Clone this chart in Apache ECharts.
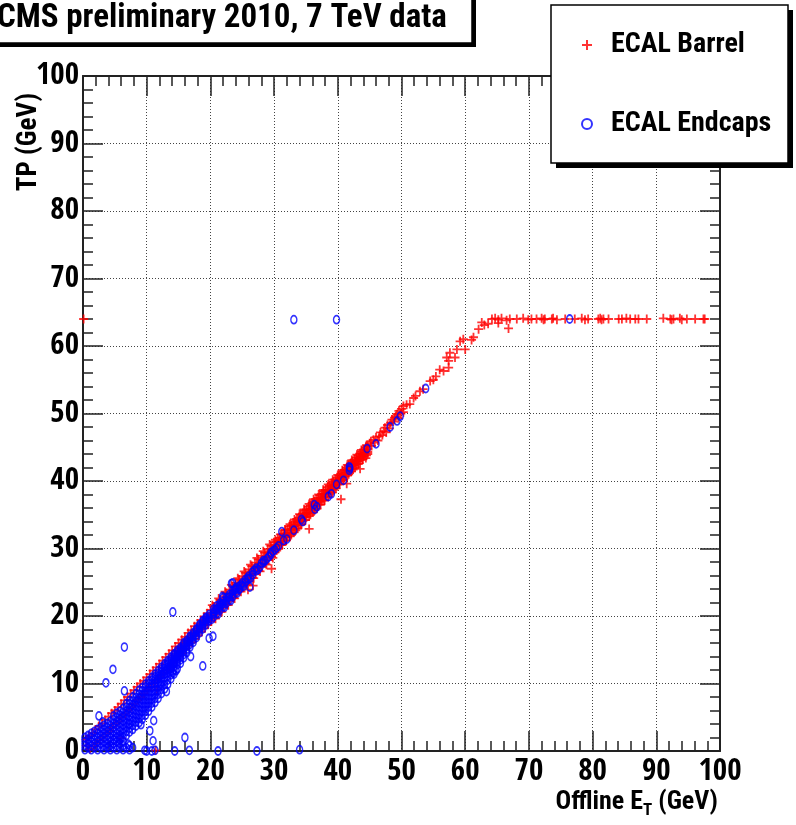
<!DOCTYPE html>
<html>
<head>
<meta charset="utf-8">
<title>TP vs offline ET</title>
<script src="https://cdn.jsdelivr.net/npm/echarts@6/dist/echarts.min.js"></script>
<style>
html, body { margin: 0; padding: 0; background: #fff; }
#chart { width: 796px; height: 825px; }
</style>
</head>
<body>
<div id="chart"></div>
<script>
var FONT = '"Roboto Condensed", "Open Sans Condensed", "DejaVu Sans Condensed", sans-serif';
var TICK_FONT = '"Open Sans Condensed", "Roboto Condensed", "DejaVu Sans Condensed", sans-serif';

// axis range (GeV), majors every 10, 5 minor divisions
var axisMin = 0, axisMax = 100, majorStep = 10;
var seriesNames = ['ECAL Barrel', 'ECAL Endcaps'];

// ECAL Barrel: dense diagonal band
var barrelBand = [
  [0.5,1.7],[0.6,0.8],[1.0,2.2],[1.1,0.3],[1.5,2.7],[1.6,0.7],[2.0,3.2],[2.1,1.2],[2.5,3.7],[2.6,1.6],
  [3.0,4.1],[3.1,2.1],[3.5,4.6],[3.6,2.7],[4.0,5.1],[4.1,3.0],[4.5,5.6],[4.6,3.5],[5.0,6.0],[5.1,4.1],
  [5.5,6.5],[5.6,4.4],[6.0,7.0],[6.1,5.0],[6.5,7.5],[6.6,5.5],[7.0,8.0],[7.1,6.1],[7.5,8.5],[7.6,6.5],
  [8.0,9.0],[8.1,7.0],[8.5,9.5],[8.6,7.6],[9.0,10.0],[9.1,8.0],[9.5,10.4],[9.6,8.5],[10.0,10.9],[10.1,9.1],
  [10.5,11.4],[10.6,9.5],[11.0,11.9],[11.1,10.0],[11.5,12.4],[11.6,10.6],[12.0,12.9],[12.1,11.0],[12.5,13.4],[12.6,11.6],
  [13.0,13.9],[13.1,12.0],[13.5,14.4],[13.6,12.5],[14.0,14.9],[14.1,13.1],
  [14.5,15.5],[14.6,14.9],[14.4,14.1],[14.6,13.6],[15.0,16.0],[15.1,15.3],[14.9,14.7],[15.1,14.1],
  [15.5,16.5],[15.6,15.9],[15.4,15.2],[15.6,14.5],[16.0,16.9],[16.1,16.4],[15.9,15.6],[16.1,15.1],
  [16.5,17.5],[16.6,16.8],[16.4,16.2],[16.6,15.6],[17.0,17.9],[17.1,17.4],[16.9,16.7],[17.1,16.1],
  [17.5,18.5],[17.6,17.9],[17.4,17.2],[17.6,16.6],[18.0,18.9],[18.1,18.3],[17.9,17.6],[18.1,17.1],
  [18.5,19.4],[18.6,18.9],[18.4,18.2],[18.6,17.7],[19.0,19.9],[19.1,19.4],[18.9,18.6],[19.1,18.2],
  [19.5,20.4],[19.6,19.8],[19.4,19.2],[19.6,18.7],[20.0,20.9],[20.1,20.4],[19.9,19.6],[20.1,19.2],
  [20.5,21.4],[20.6,20.9],[20.4,20.1],[20.6,19.7],[21.0,21.9],[21.1,21.3],[20.9,20.6],[21.1,20.2],
  [21.5,22.4],[21.6,21.8],[21.4,21.1],[21.6,20.7],[22.0,22.9],[22.1,22.3],[21.9,21.6],[22.1,21.2],
  [22.5,23.4],[22.6,22.8],[22.4,22.1],[22.6,21.7],[23.0,23.9],[23.1,23.3],[22.9,22.6],[23.1,22.2],
  [23.5,24.4],[23.6,23.8],[23.4,23.1],[23.6,22.7],[24.0,24.9],[24.1,24.3],[23.9,23.6],[24.1,23.2],
  [24.5,25.4],[24.6,24.8],[24.4,24.1],[24.6,23.7],[25.0,25.9],[25.1,25.3],[24.9,24.6],[25.1,24.2],
  [25.5,26.4],[25.6,25.8],[25.4,25.1],[25.6,24.7],[26.0,26.9],[26.1,26.3],[25.9,25.6],[26.1,25.2],
  [26.5,27.4],[26.6,26.8],[26.4,26.1],[26.6,25.7],[27.0,27.9],[27.1,27.3],[26.9,26.6],[27.1,26.2],
  [27.5,28.4],[27.6,27.8],[27.4,27.1],[27.6,26.7],[28.0,28.9],[28.1,28.3],[27.9,27.6],[28.1,27.3],
  [28.5,29.4],[28.6,28.8],[28.4,28.1],[28.6,27.8],[29.0,29.9],[29.1,29.4],[28.9,28.7],[29.1,28.3],
  [29.5,30.4],[29.6,29.9],[29.4,29.2],[29.6,28.8],[30.0,30.9],[30.1,30.4],[29.9,29.8],[30.1,29.4],
  [20.3,21.6],[20.8,19.6],[21.3,22.6],[21.8,20.6],[22.3,23.6],[22.8,21.6],[23.3,24.6],[23.8,22.6],
  [24.3,25.6],[24.8,23.6],[25.3,26.6],[25.8,24.6],[26.3,27.6],[26.8,25.6],[27.3,28.6],[27.8,26.6],
  [28.3,29.6],[28.8,27.6],[29.3,30.6],[29.8,28.6],
  [30.6,31.5],[30.7,31.0],[30.5,30.4],[30.7,30.0],[31.2,32.1],[31.3,31.6],[31.1,31.0],[31.3,30.6],
  [31.8,32.7],[31.9,32.2],[31.7,31.6],[31.9,31.2],[32.4,33.3],[32.5,32.8],[32.3,32.2],[32.5,31.8],
  [33.0,33.8],[33.1,33.3],[32.9,32.8],[33.1,32.4],[33.6,34.4],[33.7,33.9],[33.5,33.4],[33.7,33.0],
  [34.2,35.0],[34.3,34.5],[34.1,34.0],[34.3,33.6],[34.8,35.6],[34.9,35.1],[34.7,34.6],[34.9,34.2],
  [35.4,36.2],[35.5,35.7],[35.3,35.2],[35.5,34.8],[36.0,36.8],[36.1,36.3],[35.9,35.8],[36.1,35.4],
  [36.6,37.3],[36.7,36.9],[36.5,36.3],[36.7,35.9],[37.2,37.9],[37.3,37.5],[37.1,36.9],[37.3,36.5],
  [37.8,38.5],[37.9,38.1],[37.7,37.5],[37.9,37.1],[38.4,39.1],[38.5,38.6],[38.3,38.1],[38.5,37.7],
  [39.0,39.7],[39.1,39.2],[38.9,38.7],[39.1,38.3],[39.6,40.2],[39.7,39.8],[39.5,39.3],[39.7,38.9],
  [40.2,40.8],[40.3,40.4],[40.1,39.9],[40.3,39.5],[40.8,41.4],[40.9,41.0],[40.7,40.5],[40.9,40.1],
  [41.4,42.0],[41.5,41.6],[41.3,41.1],[41.5,40.8],[42.0,42.6],[42.1,42.2],[41.9,41.7],[42.1,41.4],
  [42.6,43.2],[42.7,42.8],[42.5,42.3],[42.7,42.0],[43.2,43.8],[43.3,43.4],[43.1,42.9],[43.3,42.6],
  [43.8,44.4],[43.9,44.0],[43.7,43.5],[43.9,43.2],[44.4,45.0],[44.5,44.6],[44.3,44.1],[44.5,43.8],
  [30.3,31.0],[30.3,30.5],[30.3,29.9],[30.9,31.6],[30.9,31.1],[30.9,30.5],[31.5,32.2],[31.5,31.7],[31.5,31.1],
  [32.1,32.8],[32.1,32.3],[32.1,31.7],[32.7,33.4],[32.7,32.9],[32.7,32.3],[33.3,34.0],[33.3,33.5],[33.3,32.9],
  [33.9,34.6],[33.9,34.1],[33.9,33.5],[34.5,35.2],[34.5,34.7],[34.5,34.1],[35.1,35.8],[35.1,35.3],[35.1,34.7],
  [35.7,36.4],[35.7,35.9],[35.7,35.3],[36.3,37.0],[36.3,36.5],[36.3,35.9],[36.9,37.5],[36.9,37.0],[36.9,36.5],
  [37.5,38.1],[37.5,37.6],[37.5,37.1],[38.1,38.7],[38.1,38.2],[38.1,37.7],[38.7,39.3],[38.7,38.8],[38.7,38.3],
  [39.3,39.9],[39.3,39.4],[39.3,38.9],[39.9,40.5],[39.9,40.0],[39.9,39.5],[40.5,41.1],[40.5,40.6],[40.5,40.1],
  [41.1,41.7],[41.1,41.2],[41.1,40.7],[41.7,42.3],[41.7,41.8],[41.7,41.3],[42.3,42.9],[42.3,42.4],[42.3,41.9],
  [42.9,43.5],[42.9,43.0],[42.9,42.5],[43.5,44.1],[43.5,43.6],[43.5,43.1],[44.1,44.7],[44.1,44.2],[44.1,43.7],
  [44.7,45.2],[44.7,44.8],[44.7,44.3],
  [30.2,31.3],[30.4,29.7],[31.0,32.1],[31.2,30.5],[31.7,32.8],[31.9,31.2],[32.5,33.6],[32.7,32.0],
  [33.2,34.3],[33.4,32.7],[34.0,35.1],[34.2,33.5],[34.7,35.8],[34.9,34.2],[35.5,36.6],[35.7,35.0],
  [36.2,37.3],[36.4,35.7],[37.0,38.0],[37.2,36.5],[37.7,38.7],[37.9,37.2],[38.5,39.5],[38.7,38.0],
  [39.2,40.2],[39.4,38.7],[40.0,40.9],[40.2,39.5],[40.7,41.6],[40.9,40.2],[41.5,42.4],[41.7,41.0],
  [42.2,43.1],[42.4,41.7],[43.0,43.9],[43.2,42.5],[43.7,44.6],[43.9,43.2],[44.5,45.3],[44.7,44.0]
];

// ECAL Barrel: thinner part of the band, 45-63 GeV
var barrelSparse = [
  [45.0,45.6],[45.3,45.2],[45.6,46.1],[46.0,46.5],[46.3,46.0],[46.7,47.2],[47.0,46.8],[47.4,47.9],
  [47.8,48.3],[48.1,47.8],[48.5,49.1],[48.9,49.4],[49.3,49.9],[49.6,50.4],[50.0,50.7],[50.3,50.2],
  [45.2,45.9],[45.8,45.7],[46.5,46.6],[47.2,47.4],[47.6,47.2],[48.3,48.6],[48.7,48.8],[49.1,49.6],
  [49.5,49.3],[49.9,50.0],
  [50.3,51.1],[50.8,51.3],[51.3,51.4],[51.9,52.3],[52.2,52.6],[52.9,53.3],[53.4,53.6],[54.5,54.8],
  [55.0,55.0],[55.4,55.5],[56.0,56.5],[56.6,56.3],[57.4,56.8],[57.1,58.3],[57.4,57.8],[58.4,58.3],
  [57.6,59.0],[58.7,59.5],[60.0,59.5],[59.2,60.7],[59.7,61.0],[61.0,60.9],[61.3,61.3],[62.1,62.5],
  [62.6,63.5],[63.0,63.1],[63.6,63.3]
];

// ECAL Barrel: off-band crosses
var barrelOutliers = [
  [35.5,32.9],[40.5,37.3],[41.4,39.6],[43.5,41.8],[44.4,43.4],[29.6,27.0],[26.7,24.5],[25.9,23.9],
  [11.6,9.1],[6.0,1.9],[11.4,0.1],[0.1,64.0],[66.8,62.6],[65.2,63.4]
];

// ECAL Barrel: saturation plateau at TP = 64 GeV
var barrelPlateau = [
  [64.2,64.0],[64.7,64.1],[65.2,63.9],[65.7,64.1],[66.5,63.8],[67.0,64.0],[68.1,64.0],[69.1,64.1],
  [69.9,63.9],[70.4,64.0],[71.2,64.0],[72.0,64.1],[72.3,63.9],[72.5,64.0],[73.6,64.0],[73.8,64.1],
  [74.4,63.9],[75.7,64.0],[77.2,64.0],[78.3,64.1],[78.8,63.9],[79.3,64.0],[80.9,64.0],[81.2,64.1],
  [81.4,63.9],[81.7,64.0],[82.5,64.0],[84.1,64.0],[84.6,64.0],[85.3,64.1],[85.9,64.0],[86.7,64.0],
  [87.2,64.0],[88.5,64.0],[91.1,64.1],[92.2,64.0],[92.4,63.9],[92.7,64.0],[93.7,64.1],[94.0,63.9],
  [94.8,64.0],[96.1,64.0],[97.4,64.0],[97.6,64.0]
];

// ECAL Endcaps: the pile-up near the origin and the wide band below 20 GeV
var endcapBand = [
  [0.3,0.2],[0.3,0.8],[0.3,1.4],[0.3,2.0],
  [0.8,0.5],[0.8,1.1],[0.8,1.7],[0.8,2.3],
  [1.3,0.2],[1.3,0.8],[1.3,1.4],[1.3,2.0],[1.3,2.6],
  [1.8,0.5],[1.8,1.1],[1.8,1.7],[1.8,2.3],[1.8,2.9],
  [2.3,0.2],[2.3,0.8],[2.3,1.4],[2.3,2.0],[2.3,2.6],[2.3,3.2],
  [2.8,0.5],[2.8,1.1],[2.8,1.7],[2.8,2.3],[2.8,2.9],[2.8,3.5],
  [3.3,0.2],[3.3,0.8],[3.3,1.4],[3.3,2.0],[3.3,2.6],[3.3,3.2],[3.3,3.8],
  [3.8,0.5],[3.8,1.1],[3.8,1.7],[3.8,2.3],[3.8,2.9],[3.8,3.5],[3.8,4.1],
  [4.3,0.2],[4.3,0.8],[4.3,1.4],[4.3,2.0],[4.3,2.6],[4.3,3.2],[4.3,3.8],[4.3,4.4],
  [4.8,0.5],[4.8,1.1],[4.8,1.7],[4.8,2.3],[4.8,2.9],[4.8,3.5],[4.8,4.1],[4.8,4.7],[4.8,5.2],
  [5.3,0.2],[5.3,0.8],[5.3,1.4],[5.3,2.0],[5.3,2.6],[5.3,3.2],[5.3,3.8],[5.3,4.4],[5.3,5.0],[5.3,5.6],
  [5.8,0.5],[5.8,1.1],[5.8,1.7],[5.8,2.3],[5.8,2.9],[5.8,3.5],[5.8,4.1],[5.8,4.7],[5.8,5.3],[5.8,5.9],
  [6.3,0.2],[6.3,0.8],[6.3,1.5],[6.3,2.1],[6.3,2.7],[6.3,3.3],[6.3,3.9],[6.3,4.5],[6.3,5.1],[6.3,5.7],[6.3,6.3],
  [6.8,0.5],[6.8,2.3],[6.8,2.9],[6.8,3.5],[6.8,4.1],[6.8,4.7],[6.8,5.3],[6.8,5.9],[6.8,6.5],[6.8,7.0],
  [7.3,0.2],[7.3,0.8],[7.3,2.8],[7.3,3.4],[7.3,4.0],[7.3,4.6],[7.3,5.2],[7.3,5.8],[7.3,6.4],[7.3,7.0],[7.3,7.5],
  [7.8,0.5],[7.8,3.2],[7.8,3.8],[7.8,4.4],[7.8,5.0],[7.8,5.6],[7.8,6.2],[7.8,6.8],[7.8,7.4],[7.8,8.0],
  [8.3,3.7],[8.3,4.3],[8.3,4.9],[8.3,5.5],[8.3,6.1],[8.3,6.7],[8.3,7.3],[8.3,7.9],[8.3,8.5],
  [8.8,4.2],[8.8,4.8],[8.8,5.4],[8.8,6.0],[8.8,6.6],[8.8,7.2],[8.8,7.8],[8.8,8.4],[8.8,9.0],
  [9.3,4.7],[9.3,5.3],[9.3,5.9],[9.3,6.5],[9.3,7.1],[9.3,7.7],[9.3,8.3],[9.3,8.9],[9.3,9.4],
  [9.8,5.3],[9.8,5.9],[9.8,6.5],[9.8,7.1],[9.8,7.7],[9.8,8.3],[9.8,8.9],[9.8,9.5],[9.8,9.9],
  [10.3,5.9],[10.3,6.5],[10.3,7.1],[10.3,7.7],[10.3,8.3],[10.3,8.9],[10.3,9.5],[10.3,10.0],[10.3,10.4],
  [10.8,6.5],[10.8,7.1],[10.8,7.7],[10.8,8.3],[10.8,8.9],[10.8,9.5],[10.8,10.0],[10.8,10.5],[10.8,10.9],
  [11.3,7.2],[11.3,7.8],[11.3,8.4],[11.3,9.0],[11.3,9.6],[11.3,10.1],[11.3,10.6],[11.3,11.0],[11.3,11.4],
  [11.8,7.8],[11.8,8.4],[11.8,9.0],[11.8,9.6],[11.8,10.2],[11.8,10.7],[11.8,11.1],[11.8,11.5],[11.8,11.9],
  [12.3,8.5],[12.3,9.1],[12.3,9.7],[12.3,10.3],[12.3,10.8],[12.3,11.3],[12.3,11.7],[12.3,12.1],[12.3,12.4],
  [12.8,9.2],[12.8,9.8],[12.8,10.4],[12.8,10.9],[12.8,11.4],[12.8,11.8],[12.8,12.2],[12.8,12.6],[12.8,12.9],
  [13.3,9.9],[13.3,10.5],[13.3,11.1],[13.3,11.6],[13.3,12.0],[13.3,12.4],[13.3,12.8],[13.3,13.1],[13.3,13.4],
  [13.8,10.7],[13.8,11.3],[13.8,11.8],[13.8,12.2],[13.8,12.6],[13.8,13.0],[13.8,13.3],[13.8,13.6],[13.8,13.9],
  [14.3,11.4],[14.3,12.0],[14.3,12.5],[14.3,12.9],[14.3,13.3],[14.3,13.6],[14.3,13.9],[14.3,14.2],[14.3,14.4],
  [14.8,12.2],[14.8,12.8],[14.8,13.2],[14.8,13.6],[14.8,14.0],[14.8,14.3],[14.8,14.6],[14.8,14.9],
  [15.3,13.0],[15.3,13.5],[15.3,13.9],[15.3,14.3],[15.3,14.7],[15.3,15.0],[15.3,15.3],
  [15.8,13.8],[15.8,14.3],[15.8,14.7],[15.8,15.1],[15.8,15.4],[15.8,15.7],[15.8,16.0],
  [16.3,14.6],[16.3,15.1],[16.3,15.5],[16.3,15.8],[16.3,16.1],[16.3,16.4],
  [16.8,15.4],[16.8,15.8],[16.8,16.2],[16.8,16.5],[16.8,16.8],[16.8,17.0],
  [17.3,16.1],[17.3,16.5],[17.3,16.9],[17.3,17.2],[17.3,17.5],
  [17.8,16.8],[17.8,17.2],[17.8,17.6],[17.8,17.9],[17.8,18.1],
  [18.3,17.5],[18.3,17.9],[18.3,18.2],[18.3,18.5],[18.3,18.7],
  [18.8,18.1],[18.8,18.5],[18.8,18.8],[18.8,19.1],[18.8,19.3],
  [19.3,18.7],[19.3,19.1],[19.3,19.4],[19.3,19.6],[19.3,19.8],
  [19.8,19.3],[19.8,19.6],[19.8,19.9],[19.8,20.2],
  [20.5,19.9],[20.5,20.3],[20.5,20.6],[20.5,21.0],[21.0,20.4],[21.0,20.8],[21.0,21.1],[21.0,21.5],
  [21.5,20.9],[21.5,21.3],[21.5,21.6],[21.5,21.9],[22.0,21.4],[22.0,21.8],[22.0,22.2],
  [22.5,21.9],[22.5,22.3],[22.5,22.7],[23.0,22.4],[23.0,22.8],[23.0,23.2],
  [23.5,22.9],[23.5,23.3],[23.5,23.7],[24.0,23.5],[24.0,23.9],[24.0,24.2],
  [24.5,24.0],[24.5,24.4],[25.0,24.5],[25.0,24.9],[25.5,25.0],[25.5,25.4],[26.0,25.5],[26.0,25.9],
  [26.6,26.1],[26.6,26.5],[27.2,26.7],[27.2,27.1],[27.8,27.3],[28.3,27.9],[28.3,28.2],[28.9,28.5],
  [29.5,29.1],[29.5,29.4],[30.1,29.8],[30.7,30.4],[31.5,31.2],
  [20.2,19.5],[20.8,20.9],[21.2,20.3],[21.8,21.8],[22.2,21.3],[22.8,22.8],[23.2,22.3],[23.8,23.9],
  [24.2,23.4],[24.8,24.6],[25.2,24.4],[25.8,25.6],[26.3,25.6],[26.9,26.8],[27.5,26.9],[28.0,27.8],
  [28.6,28.2],[29.2,28.8],[29.8,29.6],[30.4,30.1]
];

// ECAL Endcaps: single circles along the band above 31 GeV
var endcapSparse = [
  [31.2,32.5],[32.0,31.4],[33.1,32.7],[34.3,34.3],[34.5,34.0],[36.3,36.5],[36.4,35.8],[36.7,36.2],
  [38.5,37.7],[39.0,38.1],[39.8,39.5],[40.9,40.1],[41.8,42.1],[41.8,41.6],[41.9,41.9],[44.6,44.8],
  [46.0,45.5],[48.2,48.0],[49.3,48.9],[49.8,49.6],[53.8,53.7]
];

// ECAL Endcaps: off-band circles
var endcapOutliers = [
  [6.5,15.4],[4.7,12.1],[3.6,10.1],[6.5,8.9],[13.1,8.8],[14.6,11.9],[14.1,11.6],[12.2,9.9],
  [11.1,4.5],[10.5,3.0],[11.0,1.5],[9.1,3.9],[7.2,4.0],[16.0,2.0],[7.1,1.0],[5.9,2.0],
  [2.5,5.2],[3.1,4.3],[4.9,1.6],[4.0,0.6],[9.7,0.1],[10.0,0.0],[10.8,0.0],[11.3,0.1],
  [14.4,0.0],[16.7,0.1],[21.2,0.0],[27.3,0.0],[34.0,0.2],[14.1,20.6],[18.8,12.6],[19.8,16.7],
  [20.4,17.0],[16.9,14.0],[23.5,24.9],[22.0,22.7],[24.6,24.0],[26.2,24.3],[23.3,24.8],[21.9,22.9],
  [33.1,63.9],[39.8,63.9],[76.4,64.0]
];

var chart = echarts.init(document.getElementById('chart'));

var tickColor = '#222';
function axis(pos, labels, grid) {
  return {
    type: 'value', position: pos, min: axisMin, max: axisMax, interval: majorStep,
    axisLine: { show: true, onZero: false, lineStyle: { color: tickColor, width: 2 } },
    axisTick: { show: true, inside: true, length: 20, lineStyle: { color: tickColor, width: 1.5 } },
    minorTick: { show: true, splitNumber: 5, length: 10, lineStyle: { color: tickColor, width: 1.5 } },
    axisLabel: {
      show: labels, color: '#000', fontFamily: TICK_FONT, fontWeight: 'bold', fontSize: 31,
      margin: pos === 'left' ? 4 : 5
    },
    splitLine: { show: grid, lineStyle: { color: '#444', width: 1, type: [1, 2] } }
  };
}

chart.setOption({
  animation: false,
  backgroundColor: '#fff',
  title: {
    text: 'CMS preliminary 2010, 7 TeV data',
    left: -3, top: 2, padding: 0, z: 130,
    textStyle: { fontFamily: FONT, fontWeight: 'bold', fontSize: 33, color: '#000' }
  },
  legend: {
    orient: 'vertical', left: 576, top: 25, itemGap: 49, z: 130,
    itemWidth: 10, itemHeight: 10,
    data: seriesNames,
    textStyle: { fontFamily: FONT, fontWeight: 'bold', fontSize: 28, color: '#000', lineHeight: 30, padding: [0, 0, 0, 14] }
  },
  grid: { left: 83, right: 76, top: 76, bottom: 74 },
  xAxis: [axis('bottom', true, true), axis('top', false, false)],
  yAxis: [axis('left', true, true), axis('right', false, false)],
  graphic: [
    { type: 'rect', z: 100, shape: { x: -10, y: -10, width: 486, height: 57 }, style: { fill: '#000' } },
    { type: 'rect', z: 101, shape: { x: -10, y: -10, width: 482, height: 53 }, style: { fill: '#fff', stroke: '#000', lineWidth: 1.5 } },
    { type: 'rect', z: 100, shape: { x: 556, y: 10, width: 237, height: 158 }, style: { fill: '#000' } },
    { type: 'rect', z: 101, shape: { x: 551, y: 5, width: 237, height: 158 }, style: { fill: '#fff', stroke: '#000', lineWidth: 1.5 } },
    {
      type: 'text', z: 50, x: 29, y: 142, rotation: Math.PI / 2,
      style: { text: 'TP (GeV)', fontFamily: FONT, fontWeight: 'bold', fontSize: 27, fill: '#000', align: 'center', verticalAlign: 'middle' }
    },
    {
      type: 'text', z: 50, x: 718, y: 819,
      style: {
        text: '{a|Offline E}{s|T}{a| (GeV)}', align: 'right', verticalAlign: 'bottom',
        rich: {
          a: { fontFamily: FONT, fontWeight: 'bold', fontSize: 26, fill: '#000', verticalAlign: 'bottom', padding: [0, 0, 4, 0] },
          s: { fontFamily: FONT, fontWeight: 'bold', fontSize: 17, fill: '#000', verticalAlign: 'bottom' }
        }
      }
    }
  ],
  series: [
    {
      name: seriesNames[0], type: 'scatter', xAxisIndex: 0, yAxisIndex: 0,
      symbol: 'path://M4,0H6V4H10V6H6V10H4V6H0V4H4Z', symbolSize: 9,
      itemStyle: { color: '#ff0000' },
      emphasis: { disabled: true },
      data: barrelBand.concat(barrelSparse, barrelOutliers, barrelPlateau)
    },
    {
      name: seriesNames[1], type: 'scatter', xAxisIndex: 0, yAxisIndex: 0,
      symbol: 'circle', symbolSize: [6, 8],
      itemStyle: { color: 'rgba(0,0,0,0)', borderColor: '#0000ff', borderWidth: 1.6 },
      emphasis: { disabled: true },
      data: endcapBand.concat(endcapSparse, endcapOutliers)
    }
  ]
});
</script>
</body>
</html>
